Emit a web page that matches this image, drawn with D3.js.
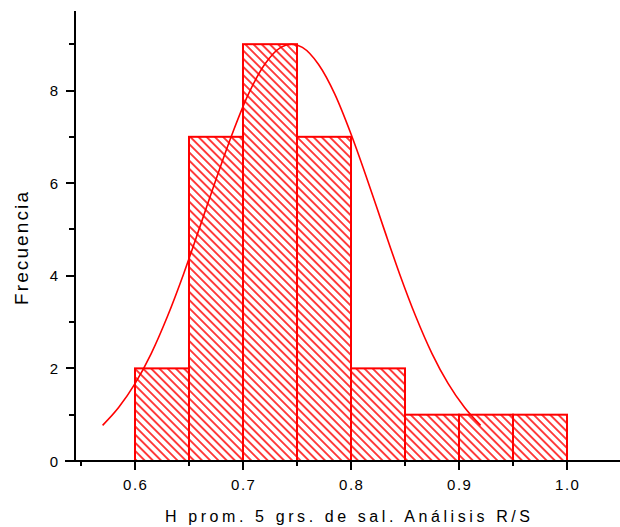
<!DOCTYPE html>
<html>
<head>
<meta charset="utf-8">
<script src="https://cdn.jsdelivr.net/npm/d3@7"></script>
<style>
  body { margin: 0; background: #fff; }
  svg { display: block; font-family: "Liberation Sans", Arial, sans-serif; }
</style>
</head>
<body>
<div id="chart"></div>
<script>
// histogram bins (left edge, width 0.05) and counts
let binStarts = [0.60, 0.65, 0.70, 0.75, 0.80, 0.85, 0.90, 0.95];
let binWidth = 0.05;
let counts = [2, 7, 9, 7, 2, 1, 1, 1];

// fitted curve
let curveX = [0.570, 0.585, 0.600, 0.615, 0.630, 0.645, 0.660, 0.675, 0.690, 0.705, 0.720, 0.735, 0.745,
              0.755, 0.770, 0.785, 0.800, 0.815, 0.830, 0.845, 0.860, 0.875, 0.890, 0.905, 0.920];
let curveY = [0.77, 1.16, 1.67, 2.32, 3.12, 4.04, 5.05, 6.08, 7.06, 7.92, 8.56, 8.93, 9.00,
              8.93, 8.56, 7.92, 7.06, 6.08, 5.05, 4.04, 3.12, 2.32, 1.67, 1.16, 0.77];

let xMajor = [0.6, 0.7, 0.8, 0.9, 1.0];
let xMinor = [0.55, 0.65, 0.75, 0.85, 0.95];
let yMajor = [0, 2, 4, 6, 8];
let yMinor = [1, 3, 5, 7, 9];

let width = 620, height = 527;
let red = "#ff0000";

let x = d3.scaleLinear().domain([0.6, 1.0]).range([135, 567]);
let y = d3.scaleLinear().domain([0, 8]).range([461, 90.5]);
let axisX = 74.5;

let svg = d3.select("#chart").append("svg")
    .attr("width", width)
    .attr("height", height);

let defs = svg.append("defs");
defs.append("pattern")
    .attr("id", "hatch")
    .attr("patternUnits", "userSpaceOnUse")
    .attr("width", 5.8)
    .attr("height", 5.8)
    .attr("patternTransform", "rotate(-45)")
  .append("line")
    .attr("x1", 2.9).attr("y1", -1)
    .attr("x2", 2.9).attr("y2", 7)
    .attr("stroke", red)
    .attr("stroke-width", 1.5);

// bars
svg.append("g")
  .selectAll("rect")
  .data(binStarts)
  .enter()
  .append("rect")
    .attr("x", d => x(d))
    .attr("y", (d, i) => y(counts[i]))
    .attr("width", d => x(d + binWidth) - x(d))
    .attr("height", (d, i) => y(0) - y(counts[i]))
    .attr("fill", "url(#hatch)")
    .attr("stroke", red)
    .attr("stroke-width", 2);

// curve
let line = d3.line()
    .x(d => x(d[0]))
    .y(d => y(d[1]))
    .curve(d3.curveMonotoneX);

svg.append("path")
    .datum(curveX.map((v, i) => [v, curveY[i]]))
    .attr("d", line)
    .attr("fill", "none")
    .attr("stroke", red)
    .attr("stroke-width", 1.6);

// axes
let axes = svg.append("g")
    .attr("stroke", "black")
    .attr("shape-rendering", "crispEdges");

axes.append("line")
    .attr("x1", 65).attr("x2", 620)
    .attr("y1", y(0)).attr("y2", y(0))
    .attr("stroke-width", 2);
axes.append("line")
    .attr("x1", axisX).attr("x2", axisX)
    .attr("y1", 11).attr("y2", y(0))
    .attr("stroke-width", 2);

axes.selectAll(".xmaj").data(xMajor).enter().append("line")
    .attr("x1", d => x(d)).attr("x2", d => x(d))
    .attr("y1", y(0)).attr("y2", y(0) + 9)
    .attr("stroke-width", 2);
axes.selectAll(".xmin").data(xMinor).enter().append("line")
    .attr("x1", d => x(d)).attr("x2", d => x(d))
    .attr("y1", y(0)).attr("y2", y(0) + 5)
    .attr("stroke-width", 2);
axes.selectAll(".ymaj").data(yMajor).enter().append("line")
    .attr("x1", axisX - 9).attr("x2", axisX)
    .attr("y1", d => y(d)).attr("y2", d => y(d))
    .attr("stroke-width", 2);
axes.selectAll(".ymin").data(yMinor).enter().append("line")
    .attr("x1", axisX - 6).attr("x2", axisX)
    .attr("y1", d => y(d)).attr("y2", d => y(d))
    .attr("stroke-width", 2);

// tick labels
svg.append("g")
  .selectAll("text")
  .data(xMajor)
  .enter()
  .append("text")
    .attr("x", d => x(d) + 0.8)
    .attr("y", 490)
    .attr("text-anchor", "middle")
    .attr("font-size", 15)
    .attr("letter-spacing", 1.5)
    .text(d => d.toFixed(1));

svg.append("g")
  .selectAll("text")
  .data(yMajor)
  .enter()
  .append("text")
    .attr("x", 58)
    .attr("y", d => y(d) + 5.5)
    .attr("text-anchor", "end")
    .attr("font-size", 15)
    .text(d => d);

// axis titles
svg.append("text")
    .attr("x", 165)
    .attr("y", 522)
    .attr("font-size", 16)
    .attr("textLength", 365)
    .attr("lengthAdjust", "spacing")
    .text("H prom. 5 grs. de sal. Análisis R/S");

svg.append("text")
    .attr("transform", "translate(28,305) rotate(-90)")
    .attr("font-size", 19)
    .attr("textLength", 113)
    .attr("lengthAdjust", "spacing")
    .text("Frecuencia");
</script>
</body>
</html>
